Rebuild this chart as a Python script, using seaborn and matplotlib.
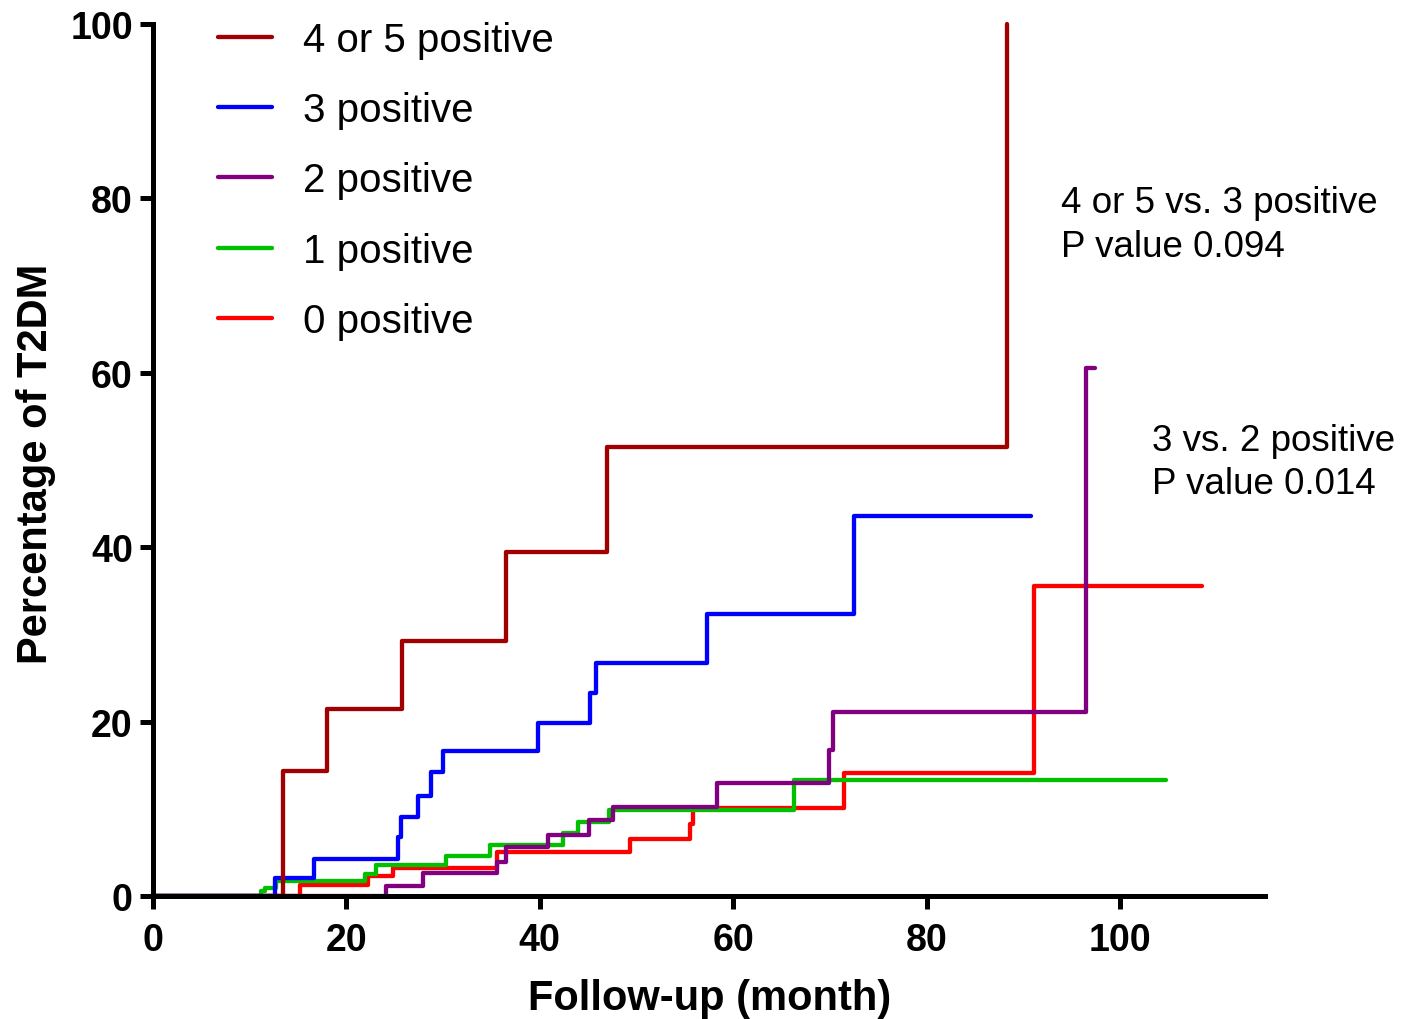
import matplotlib
matplotlib.use("Agg")
import matplotlib.pyplot as plt
import seaborn as sns
import pandas as pd

# ---- data ----
groups = ["0 positive", "1 positive", "2 positive", "3 positive", "4 or 5 positive"]
colors = ["#FF0000", "#00C000", "#800080", "#0000FF", "#A00000"]

t_0 = [0, 15.2, 22.2, 24.8, 35.6, 49.3, 55.5, 55.8, 71.5, 91.1, 108.5]
y_0 = [0, 1.3, 2.3, 3.2, 5.0, 6.5, 8.3, 10.1, 14.1, 35.6, 35.6]

t_1 = [0, 11.2, 11.6, 12.7, 21.9, 23.1, 30.3, 34.8, 42.4, 44.0, 47.2, 66.3, 104.8]
y_1 = [0, 0.6, 0.9, 1.7, 2.5, 3.6, 4.6, 5.8, 7.2, 8.5, 9.9, 13.3, 13.3]

t_2 = [0, 24.1, 27.9, 35.6, 36.5, 40.8, 45.1, 47.6, 58.3, 69.9, 70.3, 96.5, 97.4]
y_2 = [0, 1.2, 2.6, 3.9, 5.6, 7.0, 8.7, 10.2, 13.0, 16.8, 21.1, 60.6, 60.6]

t_3 = [0, 12.6, 16.7, 25.3, 25.6, 27.4, 28.8, 30.0, 39.8, 45.2, 45.8, 57.3, 72.5, 90.8]
y_3 = [0, 2.1, 4.2, 6.8, 9.1, 11.5, 14.2, 16.6, 19.8, 23.3, 26.7, 32.3, 43.6, 43.6]

t_45 = [0, 13.4, 18.0, 25.8, 36.5, 46.9, 88.3]
y_45 = [0, 14.3, 21.4, 29.3, 39.4, 51.5, 100]

x_ticks = [0, 20, 40, 60, 80, 100]
y_ticks = [0, 20, 40, 60, 80, 100]

ann_1 = "4 or 5 vs. 3 positive\nP value 0.094"
ann_2 = "3 vs. 2 positive\nP value 0.014"

series_t = [t_0, t_1, t_2, t_3, t_45]
series_y = [y_0, y_1, y_2, y_3, y_45]

rows = []
for g, ts, ys in zip(groups, series_t, series_y):
    for t, y in zip(ts, ys):
        rows.append({"group": g, "month": t, "pct": y})
df = pd.DataFrame(rows)

# ---- style ----
sns.set_style("ticks")
plt.rcParams["font.family"] = ["Liberation Sans", "DejaVu Sans"]
for k in ["text.color", "axes.labelcolor", "xtick.color", "ytick.color",
          "axes.edgecolor"]:
    plt.rcParams[k] = "black"

fig = plt.figure(figsize=(14.08, 10.2), dpi=100)
ax = fig.add_axes([153 / 1408, 1 - 897 / 1020, (1265 - 153) / 1408, (897 - 25) / 1020])

sns.lineplot(data=df, x="month", y="pct", hue="group", hue_order=groups,
             palette=dict(zip(groups, colors)), estimator=None,
             drawstyle="steps-post", linewidth=3.1, legend=False, ax=ax,
             clip_on=False)

ax.set_xlim(0, 115)
ax.set_ylim(0, 100)
ax.set_xticks(x_ticks)
ax.set_yticks(y_ticks)
ax.set_xticklabels([str(v) for v in x_ticks], fontsize=27, fontweight="bold")
ax.set_yticklabels([str(v) for v in y_ticks], fontsize=27, fontweight="bold")
ax.tick_params(axis="both", length=9.5, width=3.6, color="black", labelcolor="black")
ax.tick_params(axis="x", pad=9)
ax.tick_params(axis="y", pad=5)
for s in ["left", "bottom"]:
    ax.spines[s].set_linewidth(3.6)
    ax.spines[s].set_color("black")
sns.despine(ax=ax)

ax.set_xlabel("Follow-up (month)", fontsize=30, fontweight="bold", color="black")
ax.set_ylabel("Percentage of T2DM", fontsize=30, fontweight="bold", color="black")
ax.xaxis.set_label_coords(0.501, -0.094)
ax.yaxis.set_label_coords(-0.087, 0.497)

# legend (reference order: highest group first)
lines = ax.get_lines()[:len(groups)]
handles = list(reversed(lines))
labels = list(reversed(groups))
leg = ax.legend(handles, labels, loc="upper left",
                bbox_to_anchor=(218 / 1408, 1 - 22 / 1020),
                bbox_transform=fig.transFigure, frameon=False,
                fontsize=29, handlelength=1.34, handletextpad=0.77,
                labelspacing=0.8, borderpad=0, borderaxespad=0)
for txt in leg.get_texts():
    txt.set_color("black")

ax.text(93.9, 81.5, ann_1, fontsize=26.5, va="top", ha="left", linespacing=1.31,
        color="black")
ax.text(103.3, 54.3, ann_2, fontsize=26.5, va="top", ha="left", linespacing=1.31,
        color="black")

fig.savefig("out.png", dpi=100)
